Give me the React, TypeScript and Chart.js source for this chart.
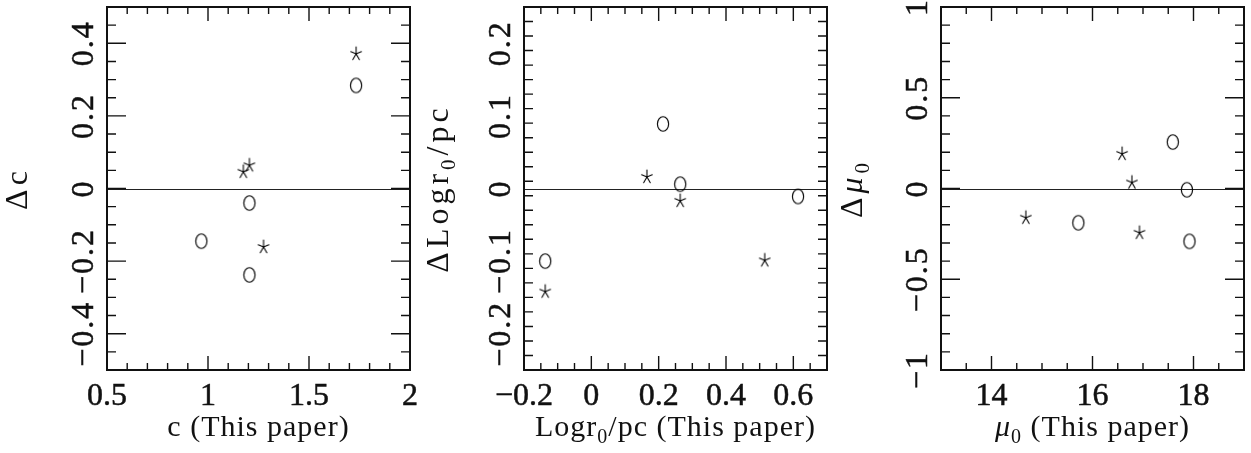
import React, { useEffect, useRef } from "react";
import { Chart, registerables } from "chart.js";

Chart.register(...registerables);

// ---------- Panel 1: c ----------
const p1StarX = [1.733, 1.205, 1.175, 1.275];
const p1StarY = [0.371, 0.064, 0.046, -0.161];
const p1CircleX = [1.733, 1.205, 0.967, 1.205];
const p1CircleY = [0.284, -0.04, -0.145, -0.238];
const p1XTickLabels = [0.5, 1, 1.5, 2];
const p1YTickLabels = [-0.4, -0.2, 0, 0.2, 0.4];

// ---------- Panel 2: Log r0/pc ----------
const p2StarX = [0.165, 0.264, -0.137, 0.515];
const p2StarY = [0.016, -0.017, -0.142, -0.099];
const p2CircleX = [0.213, 0.264, 0.614, -0.137];
const p2CircleY = [0.089, 0.006, -0.011, -0.1];
const p2XTickLabels = [-0.2, 0, 0.2, 0.4, 0.6];
const p2YTickLabels = [-0.2, -0.1, 0, 0.1, 0.2];

// ---------- Panel 3: mu0 ----------
const p3StarX = [16.586, 16.78, 14.68, 16.93];
const p3StarY = [0.191, 0.033, -0.161, -0.244];
const p3CircleX = [17.59, 17.87, 15.72, 17.92];
const p3CircleY = [0.256, -0.007, -0.189, -0.291];
const p3XTickLabels = [14, 16, 18];
const p3YTickLabels = [-1, -0.5, 0, 0.5, 1];

type Seg = { t: string; sub?: boolean; italic?: boolean };

interface PanelCfg {
  xMin: number; xMax: number; yMin: number; yMax: number;
  xMinor: number; yMinor: number;
  xLabels: number[]; yLabels: number[];
  starX: number[]; starY: number[]; circX: number[]; circY: number[];
  xTitle: Seg[]; yTitle: Seg[];
  yTitleOffset: number;
  padRight: number;
}

const panels: PanelCfg[] = [
  {
    xMin: 0.5, xMax: 2, yMin: -0.5, yMax: 0.5, xMinor: 0.1, yMinor: 0.05,
    xLabels: p1XTickLabels, yLabels: p1YTickLabels,
    starX: p1StarX, starY: p1StarY, circX: p1CircleX, circY: p1CircleY,
    xTitle: [{ t: "c (This paper)" }],
    yTitle: [{ t: "Δc" }],
    yTitleOffset: 80, padRight: 7,
  },
  {
    xMin: -0.2, xMax: 0.7, yMin: -0.25, yMax: 0.25, xMinor: 0.05, yMinor: 0.02,
    xLabels: p2XTickLabels, yLabels: p2YTickLabels,
    starX: p2StarX, starY: p2StarY, circX: p2CircleX, circY: p2CircleY,
    xTitle: [{ t: "Logr" }, { t: "0", sub: true }, { t: "/pc (This paper)" }],
    yTitle: [{ t: "ΔLogr" }, { t: "0", sub: true }, { t: "/pc" }],
    yTitleOffset: 76, padRight: 7,
  },
  {
    xMin: 13, xMax: 19, yMin: -1, yMax: 1, xMinor: 0.5, yMinor: 0.1,
    xLabels: p3XTickLabels, yLabels: p3YTickLabels,
    starX: p3StarX, starY: p3StarY, circX: p3CircleX, circY: p3CircleY,
    xTitle: [{ t: "μ", italic: true }, { t: "0", sub: true }, { t: " (This paper)" }],
    yTitle: [{ t: "Δ" }, { t: "μ", italic: true }, { t: "0", sub: true }],
    yTitleOffset: 79, padRight: 6,
  },
];

const FONT = "'Liberation Serif', 'DejaVu Serif', serif";

function fmt(v: number): string {
  const s = String(Math.round(v * 1000) / 1000);
  return s.replace("-", "−");
}

function makeStar(): HTMLCanvasElement {
  const c = document.createElement("canvas");
  c.width = 18; c.height = 20;
  const ctx = c.getContext("2d")!;
  ctx.strokeStyle = "#000";
  ctx.lineWidth = 1.1;
  ctx.lineCap = "round";
  const cx = 9, cy = 10, r = 7;
  for (let i = 0; i < 5; i++) {
    const a = (i * 72 * Math.PI) / 180;
    ctx.beginPath();
    ctx.moveTo(cx, cy);
    ctx.lineTo(cx + Math.sin(a) * r * 0.8, cy - Math.cos(a) * r);
    ctx.stroke();
  }
  return c;
}

function makeEllipse(): HTMLCanvasElement {
  const c = document.createElement("canvas");
  c.width = 18; c.height = 20;
  const ctx = c.getContext("2d")!;
  ctx.strokeStyle = "#000";
  ctx.lineWidth = 1.15;
  ctx.beginPath();
  ctx.ellipse(9, 10, 5.6, 7.2, 0, 0, Math.PI * 2);
  ctx.stroke();
  return c;
}

function segFont(s: Seg, size: number): string {
  const sz = s.sub ? Math.round(size * 0.65) : size;
  return `${s.italic ? "italic " : ""}${sz}px ${FONT}`;
}

function drawRich(ctx: CanvasRenderingContext2D, segs: Seg[], size: number, spacing: number) {
  (ctx as any).letterSpacing = `${spacing}px`;
  let total = 0;
  const widths: number[] = [];
  for (const s of segs) {
    ctx.font = segFont(s, size);
    const w = ctx.measureText(s.t).width;
    widths.push(w);
    total += w;
  }
  let x = -total / 2;
  ctx.textAlign = "left";
  ctx.textBaseline = "alphabetic";
  segs.forEach((s, i) => {
    ctx.font = segFont(s, size);
    ctx.fillText(s.t, x, s.sub ? size * 0.22 : 0);
    x += widths[i];
  });
  (ctx as any).letterSpacing = "0px";
}

function ticksBetween(min: number, max: number, step: number): number[] {
  const out: number[] = [];
  const n = Math.round((max - min) / step);
  for (let i = 0; i <= n; i++) out.push(Math.round((min + i * step) * 1e6) / 1e6);
  return out;
}

function makeFramePlugin(cfg: PanelCfg) {
  return {
    id: "frame",
    beforeDatasetsDraw(chart: any) {
      const ctx: CanvasRenderingContext2D = chart.ctx;
      const ys = chart.scales.y;
      const { left, right } = chart.chartArea;
      const y0 = ys.getPixelForValue(0);
      ctx.save();
      ctx.strokeStyle = "#222";
      ctx.lineWidth = 1;
      ctx.beginPath();
      ctx.moveTo(left, Math.round(y0) + 0.5);
      ctx.lineTo(right, Math.round(y0) + 0.5);
      ctx.stroke();
      ctx.restore();
    },
    afterDraw(chart: any) {
      const ctx: CanvasRenderingContext2D = chart.ctx;
      const xs = chart.scales.x;
      const ys = chart.scales.y;
      const { left, right, top, bottom } = chart.chartArea;
      ctx.save();
      ctx.strokeStyle = "#111";
      ctx.fillStyle = "#111";
      ctx.lineWidth = 1.4;
      const isMajor = (v: number, majors: number[], step: number) =>
        majors.some((m) => Math.abs(m - v) < step * 0.01);
      for (const v of ticksBetween(cfg.xMin, cfg.xMax, cfg.xMinor)) {
        const px = xs.getPixelForValue(v);
        const len = isMajor(v, cfg.xLabels, cfg.xMinor) ? 14 : 7;
        ctx.beginPath();
        ctx.moveTo(px, bottom); ctx.lineTo(px, bottom - len);
        ctx.moveTo(px, top); ctx.lineTo(px, top + len);
        ctx.stroke();
      }
      for (const v of ticksBetween(cfg.yMin, cfg.yMax, cfg.yMinor)) {
        const py = ys.getPixelForValue(v);
        const len = isMajor(v, cfg.yLabels, cfg.yMinor) ? 19 : 9;
        ctx.beginPath();
        ctx.moveTo(left, py); ctx.lineTo(left + len, py);
        ctx.moveTo(right, py); ctx.lineTo(right - len, py);
        ctx.stroke();
      }
      ctx.lineWidth = 2;
      ctx.strokeRect(left, top, right - left, bottom - top);

      // tick labels
      ctx.font = `32px ${FONT}`;
      ctx.lineWidth = 0.5;
      (ctx as any).letterSpacing = "0px";
      ctx.textAlign = "center";
      ctx.textBaseline = "alphabetic";
      for (const v of cfg.xLabels) {
        const px = xs.getPixelForValue(v);
        ctx.fillText(fmt(v), px, bottom + 35);
        ctx.strokeText(fmt(v), px, bottom + 35);
      }
      (ctx as any).letterSpacing = "2px";
      for (const v of cfg.yLabels) {
        ctx.save();
        ctx.translate(left - 14, ys.getPixelForValue(v));
        ctx.rotate(-Math.PI / 2);
        ctx.fillText(fmt(v), 0, 0);
        ctx.strokeText(fmt(v), 0, 0);
        ctx.restore();
      }
      (ctx as any).letterSpacing = "0px";

      ctx.save();
      ctx.translate((left + right) / 2, bottom + 66);
      drawRich(ctx, cfg.xTitle, 30, 1);
      ctx.restore();
      ctx.save();
      ctx.translate(left - cfg.yTitleOffset, (top + bottom) / 2);
      ctx.rotate(-Math.PI / 2);
      drawRich(ctx, cfg.yTitle, 32, 4);
      ctx.restore();
      ctx.restore();
    },
  };
}

function Panel({ cfg }: { cfg: PanelCfg }) {
  const ref = useRef<HTMLCanvasElement>(null);
  useEffect(() => {
    if (!ref.current) return;
    const star = makeStar();
    const ell = makeEllipse();
    const chart = new Chart(ref.current, {
      type: "scatter",
      data: {
        datasets: [
          {
            label: "stars",
            data: cfg.starX.map((x, i) => ({ x, y: cfg.starY[i] })),
            pointStyle: star as any,
            pointRadius: 6,
            showLine: false,
          },
          {
            label: "circles",
            data: cfg.circX.map((x, i) => ({ x, y: cfg.circY[i] })),
            pointStyle: ell as any,
            pointRadius: 6,
            showLine: false,
          },
        ],
      },
      options: {
        responsive: false,
        animation: false,
        devicePixelRatio: 1,
        layout: { padding: { left: 107, right: cfg.padRight, top: 7, bottom: 83 } },
        plugins: { legend: { display: false }, tooltip: { enabled: false } },
        scales: {
          x: { type: "linear", min: cfg.xMin, max: cfg.xMax, display: false },
          y: { type: "linear", min: cfg.yMin, max: cfg.yMax, display: false },
        },
      },
      plugins: [makeFramePlugin(cfg)],
    });
    return () => chart.destroy();
  }, [cfg]);
  return <canvas ref={ref} width={417} height={453} style={{ display: "block" }} />;
}

export default function App() {
  return (
    <div
      style={{
        position: "absolute",
        left: 0,
        top: 0,
        width: 1251,
        height: 453,
        background: "#fff",
        display: "flex",
        flexDirection: "row",
      }}
    >
      {panels.map((p, i) => (
        <Panel key={i} cfg={p} />
      ))}
    </div>
  );
}
